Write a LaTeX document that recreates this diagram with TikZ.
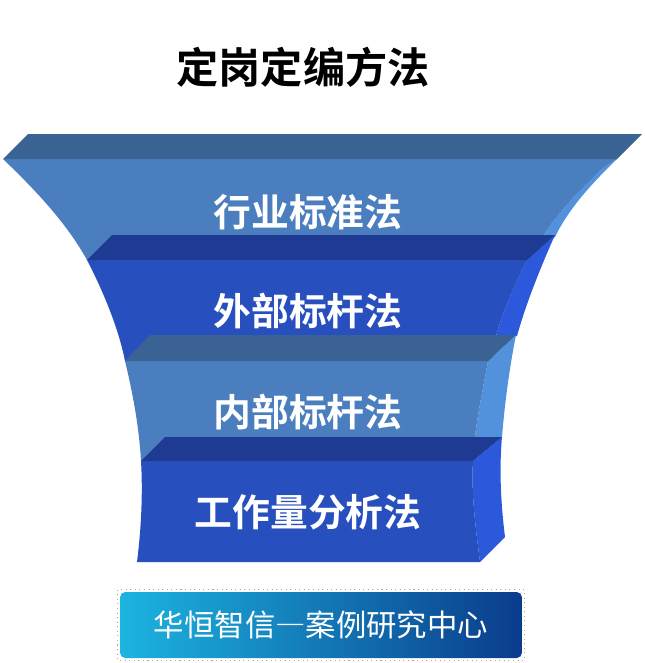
\documentclass[tikz,border=0pt]{standalone}
\usepackage{fontspec}
\newfontfamily\cjk[BoldFont={Noto Sans CJK SC Bold}]{Noto Sans CJK SC}
\newfontfamily\cjkfull[CharacterWidth=Full]{Noto Sans CJK SC}
\definecolor{ltop}{HTML}{3A6394}
\definecolor{lfront}{HTML}{4A7EBF}
\definecolor{lside}{HTML}{5291DC}
\definecolor{dtop}{HTML}{1F3A93}
\definecolor{dfront}{HTML}{274FBE}
\definecolor{dside}{HTML}{2C58DC}
\definecolor{bancyan}{HTML}{1CB4E0}
\definecolor{bannavy}{HTML}{0A3C8C}
\tikzset{
  titletext/.style={font=\cjk\bfseries\fontsize{24}{28}\selectfont},
  layertext/.style={text=white, font=\cjk\bfseries\fontsize{21.5}{25}\selectfont},
  banner/.style={rounded corners=3pt, minimum width=8.04cm, minimum height=1.32cm,
    left color=bancyan, right color=bannavy, text=white,
    font=\cjkfull\fontsize{17.3}{20}\selectfont},
  bandot/.style={draw=black!35, dotted, line width=0.6pt},
}

\begin{document}
\begin{tikzpicture}[x=0.02cm, y=-0.02cm]
  \useasboundingbox (0,0) rectangle (645,663);
  \node[titletext] (title) at (303,67) {定岗定编方法};
  % layer 1, light
  \fill[lside] (617,159) .. controls (590,185) and (568,210) .. (555,237) -- (541,250)
    -- (543,237) .. controls (555,215) and (580,190) .. (603,168) -- cycle;
  \fill[lfront] (3,159) .. controls (30,185) and (65,220) .. (87,260) -- (537,260)
    -- (543,237) .. controls (555,215) and (580,190) .. (603,168) -- (617,159) -- cycle;
  \fill[ltop] (28,134) -- (642,134) -- (617,159) -- (3,159) -- cycle;
  % layer 2, dark
  \fill[dside] (555,235) .. controls (543,262) and (527,300) .. (517,336) -- (496,336)
    .. controls (503,310) and (517,280) .. (527,260) -- cycle;
  \fill[dfront] (87,260) .. controls (100,285) and (118,325) .. (125,361) -- (491,361)
    -- (496,336) .. controls (503,310) and (517,280) .. (527,260) -- cycle;
  \fill[dtop] (112,235) -- (555,235) -- (527,260) -- (87,260) -- cycle;
  % layer 3, light
  \fill[lside] (516,335) .. controls (510,365) and (505,400) .. (502,437) -- (475,437)
    .. controls (478,410) and (484,385) .. (488,361) -- cycle;
  \fill[lfront] (125,361) .. controls (132,390) and (139,425) .. (141,461) -- (471,461)
    -- (475,437) .. controls (478,410) and (484,385) .. (488,361) -- cycle;
  \fill[ltop] (150,335) -- (516,335) -- (488,361) -- (125,361) -- cycle;
  % layer 4, dark
  \fill[dside] (502,437) .. controls (499,470) and (501,505) .. (505,537) -- (480,562)
    .. controls (476,530) and (471,495) .. (473,461) -- cycle;
  \fill[dfront] (141,461) .. controls (143,495) and (141,530) .. (137,562) -- (480,562)
    .. controls (476,530) and (471,495) .. (473,461) -- cycle;
  \fill[dtop] (165,437) -- (502,437) -- (473,461) -- (141,461) -- cycle;
  % method names
  \foreach \n/\y/\t in {m1/212/行业标准法, m2/311/外部标杆法, m3/412/内部标杆法, m4/512/工作量分析法}
    \node[layertext] (\n) at (308,\y) {\t};
  % footer
  \node[banner] (banner) at (321,625) {华恒智信—案例研究中心};
  \draw[bandot] ([shift={(-2,-2)}]banner.north west) rectangle ([shift={(2,2)}]banner.south east);
\end{tikzpicture}
\end{document}
